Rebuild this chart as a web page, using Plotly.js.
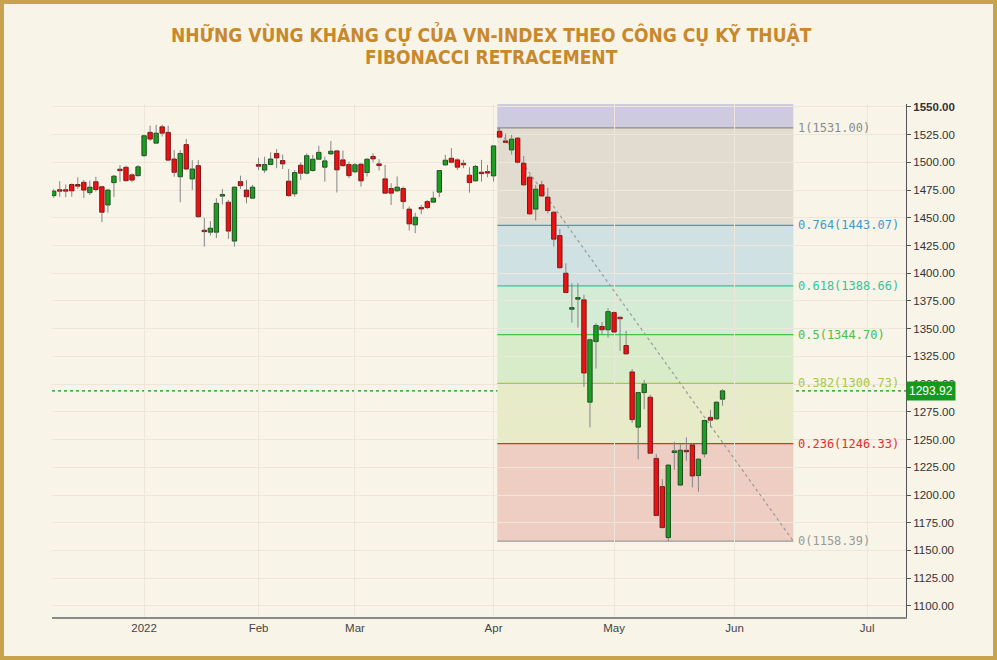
<!DOCTYPE html>
<html>
<head>
<meta charset="utf-8">
<script src="https://cdn.plot.ly/plotly-3.0.1.min.js"></script>
<style>
  html, body { margin: 0; padding: 0; background: #f8f4e8; }
  #wrap { position: relative; width: 997px; height: 660px; }
  #chart { width: 997px; height: 660px; }
  #frame { position: absolute; left: 0; top: 0; width: 997px; height: 660px; box-sizing: border-box;
           border: 4px solid #c9a24e; pointer-events: none; }
</style>
</head>
<body>
<div id="wrap"><div id="chart"></div><div id="frame"></div></div>
<script>
// ---- data (VN-Index daily candles) ----
const dates = [
 '2021-12-13','2021-12-14','2021-12-15','2021-12-16','2021-12-17','2021-12-20','2021-12-21','2021-12-22','2021-12-23','2021-12-24',
 '2021-12-27','2021-12-28','2021-12-29','2021-12-30','2021-12-31',
 '2022-01-04','2022-01-05','2022-01-06','2022-01-07','2022-01-10','2022-01-11','2022-01-12','2022-01-13','2022-01-14',
 '2022-01-17','2022-01-18','2022-01-19','2022-01-20','2022-01-21','2022-01-24','2022-01-25','2022-01-26','2022-01-27','2022-01-28',
 '2022-02-07','2022-02-08','2022-02-09','2022-02-10','2022-02-11','2022-02-14','2022-02-15','2022-02-16','2022-02-17','2022-02-18',
 '2022-02-21','2022-02-22','2022-02-23','2022-02-24','2022-02-25','2022-02-28',
 '2022-03-01','2022-03-02','2022-03-03','2022-03-04','2022-03-07','2022-03-08','2022-03-09','2022-03-10','2022-03-11',
 '2022-03-14','2022-03-15','2022-03-16','2022-03-17','2022-03-18','2022-03-21','2022-03-22','2022-03-23','2022-03-24','2022-03-25',
 '2022-03-28','2022-03-29','2022-03-30','2022-03-31',
 '2022-04-01','2022-04-04','2022-04-05','2022-04-06','2022-04-07','2022-04-08','2022-04-12','2022-04-13','2022-04-14','2022-04-15',
 '2022-04-18','2022-04-19','2022-04-20','2022-04-21','2022-04-22','2022-04-25','2022-04-26','2022-04-27','2022-04-28','2022-04-29',
 '2022-05-04','2022-05-05','2022-05-06','2022-05-09','2022-05-10','2022-05-11','2022-05-12','2022-05-13','2022-05-16','2022-05-17',
 '2022-05-18','2022-05-19','2022-05-20','2022-05-23','2022-05-24','2022-05-25','2022-05-26','2022-05-27','2022-05-30'
];
const openP = [
 1470,1474.5,1474.5,1480,1480,1482,1472.7,1482.5,1478,1461.5,
 1481.7,1493.5,1495.5,1488.7,1488,
 1506,1527,1517.3,1532,1527,1503,1487,1516,1485,
 1497,1438.5,1437,1437,1469.5,1464,1429,1482.6,1475,1467.7,
 1498,1493,1498,1508,1501.6,1483,1471.6,1497.4,1490.2,1492.6,
 1502.8,1495.6,1507.6,1510.3,1502.2,1498,
 1491.5,1498.3,1490.8,1505.3,1498.6,1485.1,1476.4,1474.3,1476.4,
 1457.8,1443.6,1459,1464.6,1464.1,1473.1,1497.7,1503.7,1502.2,1498.8,
 1488.4,1483.3,1490.8,1491.3,
 1487.8,1528,1519,1511.2,1521.8,1499.2,1486.6,1457.8,1479.7,1468.6,
 1455,1434,1400,1367.5,1376.6,1376,1283.7,1338.4,1352,1349,
 1364.5,1360,1334.8,1311,1261.2,1292.4,1288.2,1233,1207.6,1161.6,
 1238.3,1209,1240,1245.2,1217.5,1237.1,1270,1268.7,1286.4
];
const highP = [
 1476,1483,1480,1481,1486.5,1484,1483.5,1487,1478.5,1476,
 1488.7,1497.5,1497,1490,1497.5,
 1525,1533,1533.8,1534,1533,1511,1511,1521,1502,
 1502,1450,1447,1467.7,1476,1466,1478,1488,1484,1479.7,
 1504,1505,1509,1512,1507,1494,1493,1500,1508,1506.7,
 1515,1505.2,1519.3,1511.2,1510.6,1500.7,
 1499.2,1499.2,1503.7,1508.2,1502.8,1497.7,1481.2,1487.2,1478.1,
 1460.1,1454.4,1461.6,1466,1473.6,1493,1506.7,1512.8,1503.7,1502.2,
 1495.6,1497.7,1502.2,1497.7,
 1515.5,1531,1525.7,1524.8,1522.7,1505.8,1488.7,1479.7,1483.3,1477,
 1456,1440,1409,1391,1391,1380.5,1341,1355,1356,1368.5,
 1365.5,1360.5,1348,1313.5,1293,1303.8,1290.3,1237,1214.3,1228,
 1248,1246,1252,1246.7,1233.2,1268,1276.8,1284.3,1295.4
];
const lowP = [
 1468,1469,1468.5,1469,1476,1468,1470.6,1473.6,1446,1454.7,
 1468.6,1482.5,1482.5,1482,1487,
 1505,1519.3,1517,1523.2,1501,1487,1464,1493,1475,
 1450,1424,1434,1431.7,1462,1431,1424,1476,1463,1467,
 1493,1490.5,1497.7,1494.7,1494,1469,1469,1484,1489,1491.7,
 1502,1482.6,1506.7,1472.8,1496.3,1485.7,
 1490.2,1478.1,1487.2,1500.1,1492.6,1471.5,1461.6,1473.6,1457.8,
 1438.5,1436.1,1453.2,1457.8,1463.2,1468.6,1497.1,1499.2,1493.2,1494.7,
 1472.7,1482.6,1482.6,1486.6,
 1482.6,1521.8,1517.3,1507,1499,1479,1453,1447.5,1469,1454,
 1424,1404,1382,1355.5,1351,1297.5,1261,1314,1344.5,1342,
 1346,1330,1327,1265,1232.3,1277.4,1237,1181,1170,1158.4,
 1222.7,1208,1231,1207,1203,1234,1261,1268,1280.4
];
const closeP = [
 1474,1474,1474,1474.3,1478.5,1475,1477.6,1475.5,1455,1475,
 1487.5,1492.5,1483.5,1484,1496,
 1524,1521,1526.3,1526.3,1502,1491,1508,1494,1494,
 1451,1437.5,1440.6,1463,1471,1438,1477.6,1479,1469,1477.6,
 1496.5,1498,1503,1504,1498.6,1470,1490.8,1490.2,1506,1502.8,
 1509,1501.3,1510,1493.2,1497,1488,
 1497.8,1483.3,1502.8,1503.1,1497.1,1472.2,1472.2,1477.6,1464.6,
 1444.5,1450.5,1458,1459.2,1467.7,1492.6,1501.9,1500.1,1495.6,1497.8,
 1481.7,1496.3,1489.8,1490.3,
 1514.8,1522.7,1518,1520.9,1500.1,1479.7,1453.5,1475.8,1469.7,1456.5,
 1430.7,1405,1382.6,1369,1378,1310,1340,1352.8,1349,1365.4,
 1347,1359,1327.3,1268,1292.4,1300,1237.7,1181.5,1170.6,1227,
 1239.8,1240.4,1239,1217.2,1232.3,1267.2,1267.5,1283.7,1293.92
];
// market holidays removed from the axis
const holidays = ['2022-01-03','2022-01-31','2022-02-01','2022-02-02','2022-02-03','2022-02-04','2022-04-11','2022-05-02','2022-05-03'];
// x axis tick labels
const tickDates = ['2022-01-04','2022-02-07','2022-03-01','2022-04-01','2022-05-04','2022-06-01','2022-07-01'];
const tickLabels = ['2022','Feb','Mar','Apr','May','Jun','Jul'];
// Fibonacci retracement
const fibStart = '2022-04-04 03:00';
const fibEnd = '2022-06-15 06:00';
const fibRatios = ['1','0.764','0.618','0.5','0.382','0.236','0'];
const fibValues = [1531.00, 1443.07, 1388.66, 1344.70, 1300.73, 1246.33, 1158.39];
const fibLineColors = ['#8c8c8c','#3d9bd0','#33c49c','#46c246','#a9c83c','#e0302c','#9a9a9a'];
const fibZoneColors = ['#cecae0','#e1dccf','#d0e1e3','#d4ebd6','#d8ecca','#e7ebc8','#eecec3'];
const lastPrice = 1293.92;
const yTicks = [1100,1125,1150,1175,1200,1225,1250,1275,1300,1325,1350,1375,1400,1425,1450,1475,1500,1525,1550];
const titleLines = ['NHỮNG VÙNG KHÁNG CỰ CỦA VN-INDEX THEO CÔNG CỤ KỸ THUẬT', 'FIBONACCI RETRACEMENT'];

// ---- build traces ----
const xs = dates.map(d => d + ' 12:00');
const up = closeP.map((c, i) => c >= openP[i]);
const bodyBase = openP.map((o, i) => Math.min(o, closeP[i]));
const bodyH = openP.map((o, i) => Math.max(Math.abs(closeP[i] - o), 1.3));
const upperX = [], upperY = [], lowerX = [], lowerY = [];
xs.forEach((x, i) => {
  const top = Math.max(openP[i], closeP[i]), bot = Math.min(openP[i], closeP[i]);
  upperX.push(x, x, null); upperY.push(top, highP[i], null);
  lowerX.push(x, x, null); lowerY.push(lowP[i], bot, null);
});

const traces = [
  { type: 'bar', x: xs, y: bodyH, base: bodyBase, width: 0.72 * 86400000,
    marker: { color: up.map(u => u ? '#1d9e22' : '#ee1111'),
              line: { color: up.map(u => u ? '#1e4d1e' : '#7a1515'), width: 1 } },
    hoverinfo: 'skip', showlegend: false },
  { type: 'scatter', mode: 'lines', x: upperX, y: upperY, line: { color: '#858585', width: 1 }, hoverinfo: 'skip', showlegend: false },
  { type: 'scatter', mode: 'lines', x: lowerX, y: lowerY, line: { color: '#858585', width: 1 }, hoverinfo: 'skip', showlegend: false }
];

// ---- shapes ----
const shapes = [];
const zoneTops = [1600].concat(fibValues.slice(0, -1));
const zoneBots = fibValues;
for (let i = 0; i < fibValues.length; i++) {
  shapes.push({ type: 'rect', xref: 'x', yref: 'y', x0: fibStart, x1: fibEnd, y0: zoneBots[i], y1: zoneTops[i],
                fillcolor: fibZoneColors[i], line: { width: 0 }, layer: 'below' });
}
fibValues.forEach((v, i) => {
  shapes.push({ type: 'line', xref: 'x', yref: 'y', x0: fibStart, x1: fibEnd, y0: v, y1: v,
                line: { color: fibLineColors[i], width: 1.2 }, layer: 'below' });
});
shapes.push({ type: 'line', xref: 'x', yref: 'y', x0: fibStart, x1: fibEnd, y0: fibValues[0], y1: fibValues[fibValues.length - 1],
              line: { color: '#9a9a9a', width: 1.2, dash: 'dot' }, layer: 'between' });
shapes.push({ type: 'line', xref: 'paper', yref: 'y', x0: 0, x1: 1, y0: lastPrice, y1: lastPrice,
              line: { color: '#0c960c', width: 1.2, dash: 'dot' }, layer: 'between' });

// ---- annotations ----
const annotations = [];
fibValues.forEach((v, i) => {
  annotations.push({ xref: 'x', yref: 'y', x: fibEnd, y: v, xanchor: 'left', yanchor: 'middle', xshift: 3,
    text: fibRatios[i] + '(' + v.toFixed(2) + ')', showarrow: false,
    font: { family: 'DejaVu Sans Mono, monospace', size: 12, color: fibLineColors[i] } });
});
annotations.push({ xref: 'paper', yref: 'y', x: 1, y: lastPrice, xanchor: 'left', yanchor: 'middle', xshift: 0,
  text: lastPrice.toFixed(2), showarrow: false, bgcolor: '#15991a', borderpad: 2,
  font: { family: 'Liberation Sans, Arial', size: 12, color: '#ffffff' } });
annotations.push({ xref: 'paper', yref: 'paper', x: 0.5152, y: 1.137, xanchor: 'center', yanchor: 'middle',
  text: '<b>' + titleLines[0] + '</b>', showarrow: false,
  font: { family: 'DejaVu Sans Condensed, Arial', size: 19, color: '#c8882c' } });
annotations.push({ xref: 'paper', yref: 'paper', x: 0.5152, y: 1.0916, xanchor: 'center', yanchor: 'middle',
  text: '<b>' + titleLines[1] + '</b>', showarrow: false,
  font: { family: 'DejaVu Sans Condensed, Arial', size: 19, color: '#c8882c' } });

const layout = {
  width: 997, height: 660,
  margin: { l: 52, r: 91, t: 104, b: 43 },
  paper_bgcolor: '#f8f4e8', plot_bgcolor: '#f8f4e8',
  showlegend: false, bargap: 0,
  xaxis: {
    type: 'date',
    range: ['2021-12-13 05:15', '2022-07-11 22:48'],
    rangebreaks: [ { bounds: ['sat', 'mon'] }, { values: holidays } ],
    tickmode: 'array', tickvals: tickDates.map(d => d + ' 12:00'), ticktext: tickLabels,
    showgrid: true, gridcolor: '#ece7da', gridwidth: 1,
    showline: true, linecolor: '#8a8a8a', linewidth: 1.5,
    ticks: '', zeroline: false, fixedrange: true,
    tickfont: { family: 'Liberation Sans, Arial', size: 11.5, color: '#444' }
  },
  yaxis: {
    side: 'right', range: [1090, 1552.6],
    tickmode: 'array', tickvals: yTicks,
    ticktext: yTicks.map(v => v === 1550 ? '<b>' + v.toFixed(2) + '</b>' : v.toFixed(2)),
    showgrid: true, gridcolor: '#ece7da', gridwidth: 1,
    showline: true, linecolor: '#555', linewidth: 1,
    ticks: 'outside', ticklen: 4, tickcolor: '#555', zeroline: false, fixedrange: true,
    tickfont: { family: 'Liberation Sans, Arial', size: 11.5, color: '#333' }
  },
  shapes: shapes,
  annotations: annotations
};

Plotly.newPlot('chart', traces, layout, { displayModeBar: false, staticPlot: true });
</script>
</body>
</html>
